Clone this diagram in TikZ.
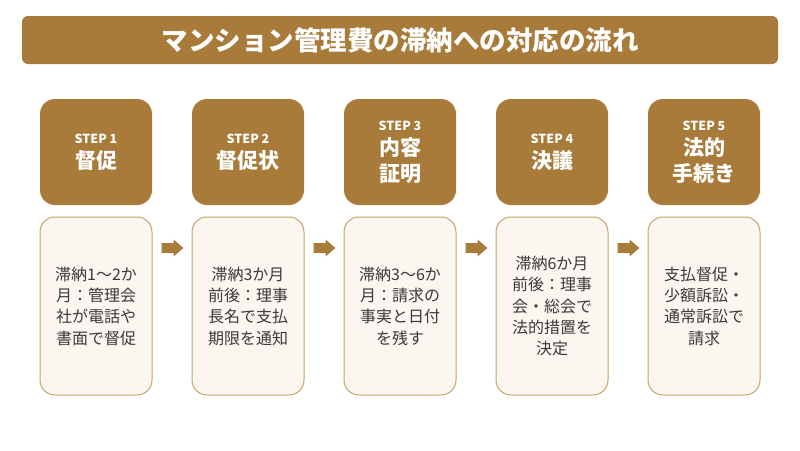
\documentclass[tikz,border=0pt]{standalone}
\usepackage{fontspec}
\setmainfont{Noto Sans CJK JP}
\definecolor{brown}{HTML}{A97B3A}
\definecolor{cream}{HTML}{FBF7F0}
\definecolor{edge}{HTML}{C9A367}
\definecolor{txt}{HTML}{3A3A3A}
\tikzset{
  titlebar/.style={fill=brown, rounded corners=6pt, draw=none},
  stepbox/.style={fill=brown, draw=none, rounded corners=15pt, minimum width=112pt, minimum height=106pt, inner sep=0pt,
    text=white, align=center, font=\bfseries\fontsize{21}{26}\selectfont},
  descbox/.style={fill=cream, draw=edge, line width=1pt, rounded corners=15pt, minimum width=112pt, minimum height=178pt, inner sep=0pt,
    text=txt, align=center, font=\fontsize{16}{21.3}\selectfont},
  arrowfill/.style={fill=brown, draw=none}
}
\newcommand{\steplabel}[1]{{\fontsize{12.5}{14}\selectfont STEP #1}\\[-1pt]}
\begin{document}
\begin{tikzpicture}[x=1pt,y=-1pt]
\useasboundingbox (0,0) rectangle (800,450);
\fill[white] (0,0) rectangle (800,450);
\node[titlebar, minimum width=756pt, minimum height=48pt, text=white, font=\bfseries\fontsize{26.5}{30}\selectfont] (title) at (400,40) {マンション管理費の滞納への対応の流れ};

\node[stepbox] (s1) at (96,152) {\steplabel{1}督促};
\node[stepbox] (s2) at (248,152) {\steplabel{2}督促状};
\node[stepbox] (s3) at (400,152) {\steplabel{3}内容\\証明};
\node[stepbox] (s4) at (552,152) {\steplabel{4}決議};
\node[stepbox] (s5) at (704,152) {\steplabel{5}法的\\手続き};

\node[descbox] (d1) at (96,306) {滞納1〜2か\\月：管理会\\社が電話や\\書面で督促};
\node[descbox] (d2) at (248,306) {滞納3か月\\前後：理事\\長名で支払\\期限を通知};
\node[descbox] (d3) at (400,306) {滞納3〜6か\\月：請求の\\事実と日付\\を残す};
\node[descbox] (d4) at (552,306) {滞納6か月\\前後：理事\\会・総会で\\法的措置を\\決定};
\node[descbox] (d5) at (704,306) {支払督促・\\少額訴訟・\\通常訴訟で\\請求};

\foreach \a/\b in {d1/d2,d2/d3,d3/d4,d4/d5}{
  \path (\a.east |- 0,248) coordinate (t\a);
  \fill[arrowfill] (t\a) ++(9,-5) -- ++(12,0) -- ++(0,-3.5) -- ++(10,8.5) -- ++(-10,8.5) -- ++(0,-3.5) -- ++(-12,0) -- cycle;
}
\end{tikzpicture}
\end{document}
